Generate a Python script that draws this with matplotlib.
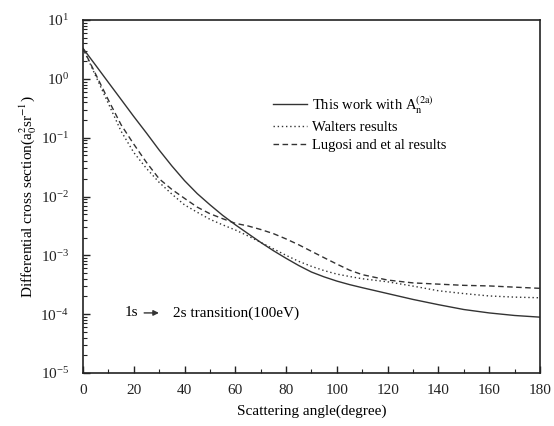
import numpy as np
import matplotlib
matplotlib.use('Agg')
import matplotlib.pyplot as plt
from matplotlib.ticker import LogLocator, MultipleLocator, NullFormatter

plt.rcParams['font.family'] = 'Liberation Serif'
plt.rcParams['mathtext.fontset'] = 'stix'

# Scattering angle (degree)
angle = [0, 5, 10, 15, 20, 25, 30, 35, 40, 45, 50, 55, 60, 65, 70, 75, 80, 85,
         90, 95, 100, 105, 110, 120, 130, 140, 150, 160, 170, 180]

# This work with A_n^(2a)
this_work = [3.3, 1.70, 0.87, 0.447, 0.229, 0.12, 0.0617, 0.0331, 0.0186, 0.0112,
             0.00724, 0.00479, 0.00331, 0.00234, 0.00166, 0.0012, 0.00089, 0.00067,
             0.00052, 0.000430, 0.000365, 0.000318, 0.000282, 0.000224, 0.000178,
             0.000145, 0.00012, 0.000105, 0.000095, 0.000089]

# Walters results
walters = [3.3, 1.12, 0.38, 0.129, 0.056, 0.030, 0.0174, 0.011, 0.0072, 0.0054,
           0.0041, 0.0033, 0.0027, 0.00214, 0.00166, 0.00129, 0.0010, 0.00079,
           0.00065, 0.00055, 0.00048, 0.000437, 0.0004, 0.000355, 0.0003,
           0.00025, 0.000224, 0.000204, 0.000195, 0.00019]

# Lugosi and et al results
lugosi = [3.3, 1.20, 0.437, 0.166, 0.0776, 0.038, 0.020, 0.0132, 0.0093, 0.0066,
          0.0051, 0.0042, 0.0035, 0.00316, 0.00275, 0.00234, 0.0019, 0.00151,
          0.00117, 0.00091, 0.00071, 0.00056, 0.00047, 0.00038, 0.00034,
          0.000324, 0.000309, 0.000302, 0.000288, 0.000275]

fig = plt.figure(figsize=(5.54, 4.26), dpi=100)
ax = fig.add_axes([0.1498, 0.1244, 0.8249, 0.8286])

lc = '#333333'
ax.plot(angle, this_work, color=lc, lw=1.0, ls='-',
        label=r'This work with A$_{\rm n}^{\rm (2a)}$')
ax.plot(angle, walters, color=lc, lw=1.0, ls=(0, (1, 2)), label='Walters results')
ax.plot(angle, lugosi, color=lc, lw=1.0, ls=(0, (4, 2.5)), label='Lugosi and et al results')

ax.set_yscale('log')
ax.set_xlim(0, 180)
ax.set_ylim(1e-5, 10)

ax.xaxis.set_major_locator(MultipleLocator(20))
ax.xaxis.set_minor_locator(MultipleLocator(10))
ax.yaxis.set_major_locator(LogLocator(base=10, numticks=10))
ax.yaxis.set_minor_locator(LogLocator(base=10, subs=np.arange(2, 10), numticks=20))
ax.yaxis.set_minor_formatter(NullFormatter())

ax.tick_params(which='both', direction='in', top=False, right=False, labelsize=11, colors='#222222')
ax.tick_params(which='major', length=5, width=1)
ax.tick_params(which='minor', length=3, width=0.8)
ax.tick_params(axis='x', pad=8)
ax.tick_params(axis='y', pad=10)
for s in ax.spines.values():
    s.set_linewidth(1.2)
    s.set_color('#222222')

ax.set_xlabel('Scattering angle(degree)', fontsize=11, labelpad=5)
ax.set_ylabel(r'Differential cross section(a$_0^2$sr$^{-1}$)', fontsize=11, labelpad=1)

ax.legend(loc='upper left', bbox_to_anchor=(0.416, 0.79), frameon=False, fontsize=10.5,
          handlelength=2.35, handletextpad=0.3, labelspacing=0.35, borderpad=0, borderaxespad=0)

y_ann = 1.05e-4
ax.text(16.5, y_ann, '1s', fontsize=11, va='center')
ax.annotate('', xy=(31, y_ann), xytext=(23, y_ann),
            arrowprops=dict(arrowstyle='-|>', color=lc, lw=1.0, mutation_scale=8))
ax.text(35.5, y_ann, '2s transition(100eV)', fontsize=11, va='center')

fig.savefig('out.png', dpi=100)
